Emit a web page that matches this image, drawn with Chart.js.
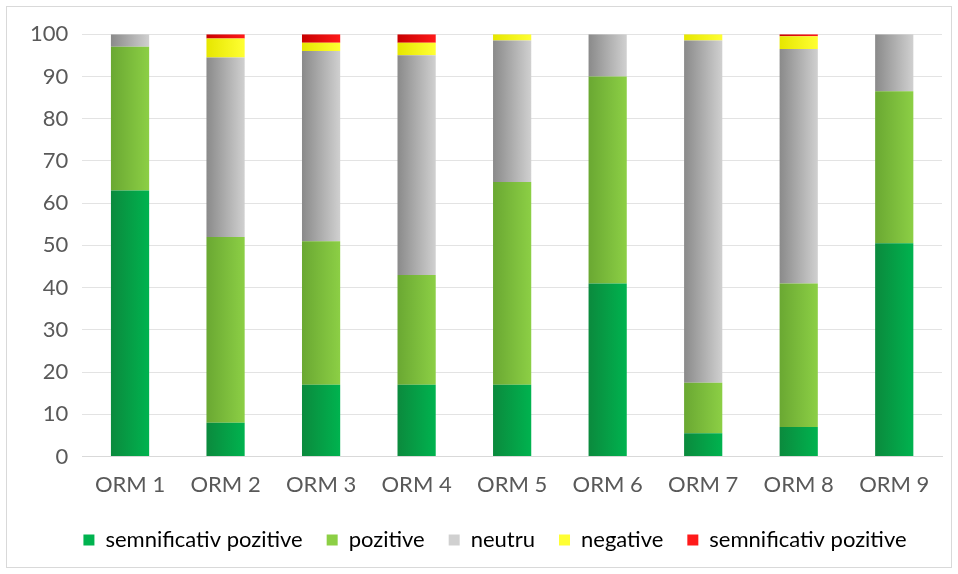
<!DOCTYPE html>
<html>
<head>
<meta charset="utf-8">
<script src="https://cdn.jsdelivr.net/npm/chart.js@4/dist/chart.umd.min.js"></script>
<style>
  html, body { margin: 0; padding: 0; background: #fff; }
  #box {
    position: absolute; left: 6px; top: 6px;
    width: 944px; height: 560px;
    border: 1px solid #d9d9d9;
  }
</style>
</head>
<body>
<div id="box"><canvas id="chart"></canvas></div>
<script>
const categories = ["ORM 1", "ORM 2", "ORM 3", "ORM 4", "ORM 5", "ORM 6", "ORM 7", "ORM 8", "ORM 9"];
const seriesNames = ["semnificativ pozitive", "pozitive", "neutru", "negative", "semnificativ pozitive"];
const semnPozitive = [63, 8, 17, 17, 17, 41, 5.5, 7, 50.5];
const pozitive = [34, 44, 34, 26, 48, 49, 12, 34, 36];
const neutru = [3, 42.5, 45, 52, 33.5, 10, 81, 55.5, 13.5];
const negative = [0, 4.5, 2, 3, 1.5, 0, 1.5, 3, 0];
const semnNegative = [0, 1, 2, 2, 0, 0, 0, 0.5, 0];
const yTicks = [0, 10, 20, 30, 40, 50, 60, 70, 80, 90, 100];

// left (darker) and right (lighter) shades of each series
const shades = [
  ["#0b8a3d", "#00b34f"],
  ["#6aa832", "#8ccf45"],
  ["#8a8a8a", "#d0d0d0"],
  ["#e6e600", "#ffff33"],
  ["#c80000", "#ff1a1a"]
];
const BAR_FRACTION = 0.4;
const FONT = { family: "Lato", size: 22 };

function barFill(idx) {
  return (ctx) => {
    const chart = ctx.chart;
    const x = chart.scales.x;
    if (!chart.chartArea || !x || ctx.dataIndex === undefined) return shades[idx][1];
    const cx = x.getPixelForValue(ctx.dataIndex);
    const half = (x.width / categories.length) * BAR_FRACTION / 2;
    const g = chart.ctx.createLinearGradient(cx - half, 0, cx + half, 0);
    g.addColorStop(0, shades[idx][0]);
    g.addColorStop(1, shades[idx][1]);
    return g;
  };
}

// the legend in the original sits a bit right of centre
const legendNudge = {
  id: "legendNudge",
  afterLayout(chart) {
    if (chart.legend) {
      chart.legend.left += 16;
      chart.legend.right += 16;
    }
  }
};

const values = [semnPozitive, pozitive, neutru, negative, semnNegative];
const datasets = values.map((data, i) => ({
  label: seriesNames[i],
  data: data,
  backgroundColor: barFill(i),
  borderWidth: 0,
  categoryPercentage: BAR_FRACTION,
  barPercentage: 1.0,
  legendColor: shades[i][1]
}));

new Chart(document.getElementById("chart"), {
  type: "bar",
  data: { labels: categories, datasets: datasets },
  plugins: [legendNudge],
  options: {
    responsive: true,
    maintainAspectRatio: false,
    animation: false,
    layout: { padding: { top: 23, right: 9, left: 9, bottom: 6 } },
    scales: {
      x: {
        stacked: true,
        grid: { display: false },
        border: { color: "#d9d9d9" },
        ticks: { color: "#595959", font: FONT, padding: 7 }
      },
      y: {
        stacked: true,
        min: 0,
        max: 100,
        afterBuildTicks: (axis) => { axis.ticks = yTicks.map(v => ({ value: v })); },
        grid: { color: "#e3e3e3", drawTicks: false },
        border: { display: false },
        ticks: { color: "#595959", font: FONT, padding: 14 }
      }
    },
    plugins: {
      legend: {
        position: "bottom",
        labels: {
          color: "#595959",
          font: FONT,
          boxWidth: 11,
          boxHeight: 11,
          padding: 24,
          generateLabels: (chart) => chart.data.datasets.map((ds, i) => ({
            text: ds.label,
            fillStyle: ds.legendColor,
            strokeStyle: ds.legendColor,
            lineWidth: 0,
            datasetIndex: i,
            hidden: false
          }))
        }
      },
      tooltip: { enabled: false }
    }
  }
});
</script>
</body>
</html>
